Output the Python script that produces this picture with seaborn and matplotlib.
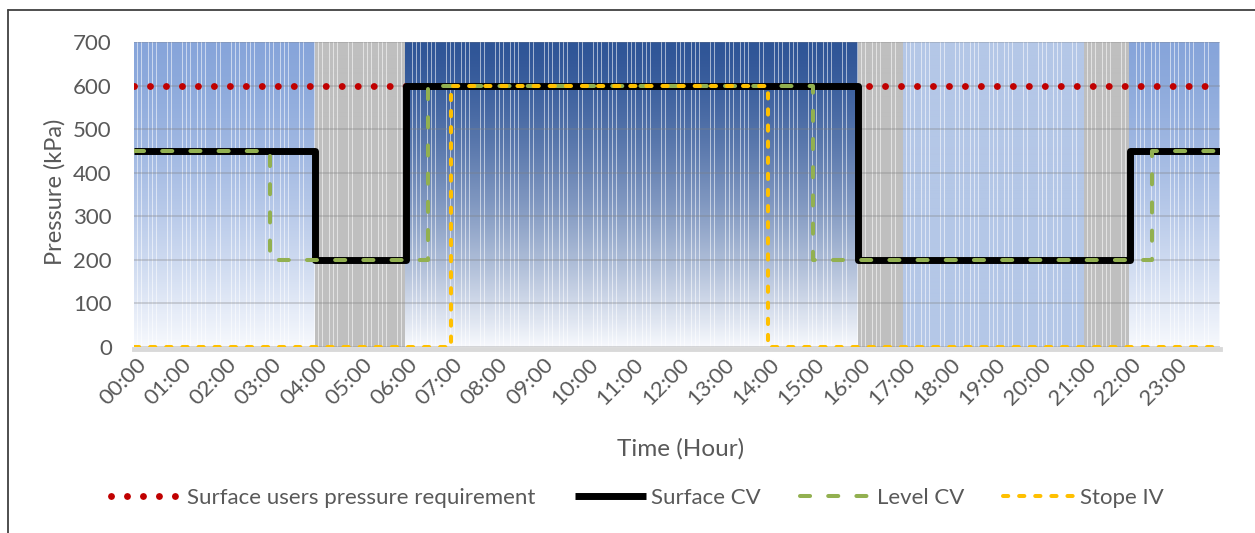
import numpy as np
import pandas as pd
import matplotlib
matplotlib.use("Agg")
import matplotlib.pyplot as plt
from matplotlib.lines import Line2D
from matplotlib.colors import to_rgb
from matplotlib.transforms import ScaledTranslation
import seaborn as sns

# ---------------- data ----------------
hour_labels = [f"{h:02d}:00" for h in range(24)]
hour_ticks = list(range(24))

# step series: change points (hours) and the value held from that point
req_t = [0, 24]
req_v = [600, 600]

surface_cv_t = [0, 4, 6, 16, 22, 24]
surface_cv_v = [450, 200, 600, 200, 450, 450]

level_cv_t = [0, 3, 6.5, 15, 22.5, 24]
level_cv_v = [450, 200, 600, 200, 450, 450]

stope_iv_t = [0, 7, 14, 24]
stope_iv_v = [0, 600, 0, 0]

# background tariff periods
period_start = [0, 4, 6, 16, 17, 21, 22]
period_end = [4, 6, 16, 17, 21, 22, 24]
period_top = ['#87A5DA', '#BFBFBF', '#2F5597', '#BFBFBF', '#B4C7E7', '#BFBFBF', '#87A5DA']
period_bottom = ['#F7F9FD', '#BFBFBF', '#F7F9FD', '#BFBFBF', '#B4C7E7', '#BFBFBF', '#F7F9FD']

y_ticks = [0, 100, 200, 300, 400, 500, 600, 700]

# ---------------- style ----------------
sns.set_theme(style="white")
plt.rcParams['font.family'] = ['Lato', 'DejaVu Sans']
text_color = '#595959'
fs = 16

W, H = 1255, 533
fig = plt.figure(figsize=(W / 100, H / 100), dpi=100)
ax = fig.add_axes([134 / W, 1 - 347 / H, 1086 / W, 305 / H])

# spines first (set_position resets ticks)
for sp in ['left', 'top', 'right']:
    ax.spines[sp].set_visible(False)
ax.spines['bottom'].set_color('#D9D9D9')
ax.spines['bottom'].set_linewidth(3.5)
ax.spines['bottom'].set_position(('outward', 1.5))

# background image built from the period arrays
slots_per_hour = 12
sub = 6
ncols = 24 * slots_per_hour * sub
nrows = 300
t_cols = (np.arange(ncols) + 0.5) / ncols * 24
img = np.ones((nrows, ncols, 3))
ty = (np.linspace(0, 1, nrows) ** 1.4)[:, None]
for s, e, ct, cb in zip(period_start, period_end, period_top, period_bottom):
    m = (t_cols >= s) & (t_cols < e)
    top = np.array(to_rgb(ct))
    bot = np.array(to_rgb(cb))
    grad = top[None, :] * (1 - ty) + bot[None, :] * ty
    img[:, m, :] = grad[:, None, :]
frac = (t_cols * slots_per_hour) % 1.0
gap = frac > 0.8
img[:, gap, :] = img[:, gap, :] * 0.45 + 0.55
ax.imshow(img, extent=(0, 24, 0, 700), aspect='auto', interpolation='nearest',
          origin='upper', zorder=0)

# lines
df_req = pd.DataFrame({'t': req_t, 'v': req_v})
df_s = pd.DataFrame({'t': surface_cv_t, 'v': surface_cv_v})
df_l = pd.DataFrame({'t': level_cv_t, 'v': level_cv_v})
df_st = pd.DataFrame({'t': stope_iv_t, 'v': stope_iv_v})

red_kw = dict(color='#C00000', lw=5, linestyle=(0, (0.001, 2.3)), dash_capstyle='round')
blk_kw = dict(color='black', lw=5, solid_joinstyle='round', solid_capstyle='butt')
grn_kw = dict(color='#92B050', lw=2.9, linestyle=(0, (2.5, 4.5)), dash_capstyle='round')
yel_kw = dict(color='#FFC000', lw=2.9, linestyle=(0, (1.3, 2.7)), dash_capstyle='round')

sns.lineplot(data=df_req, x='t', y='v', ax=ax, legend=False, zorder=3, **red_kw)
sns.lineplot(data=df_s, x='t', y='v', ax=ax, legend=False, drawstyle='steps-post', zorder=4, **blk_kw)
sns.lineplot(data=df_l, x='t', y='v', ax=ax, legend=False, drawstyle='steps-post', zorder=5, **grn_kw)
sns.lineplot(data=df_st, x='t', y='v', ax=ax, legend=False, drawstyle='steps-post', zorder=6, **yel_kw)

ax.set_xlim(0, 24)
ax.set_ylim(0, 700)
ax.set_xlabel('')
ax.set_ylabel('')
ax.set_axisbelow(True)
ax.yaxis.grid(True, color='#7F7F7F', alpha=0.35, lw=1.2)
ax.xaxis.grid(False)

ax.set_yticks(y_ticks)
ax.set_yticklabels([str(v) for v in y_ticks])
ax.set_xticks(hour_ticks)
ax.set_xticklabels(hour_labels)
ax.tick_params(axis='x', length=0, pad=9, labelsize=fs, labelcolor=text_color, labelrotation=45)
ax.tick_params(axis='y', length=0, pad=16, labelsize=fs, labelcolor=text_color)
shift = ScaledTranslation(9 / 100, 0, fig.dpi_scale_trans)
for lab in ax.get_xticklabels():
    lab.set_ha('right')
    lab.set_va('center')
    lab.set_rotation_mode('anchor')
    lab.set_transform(lab.get_transform() + shift)

fig.text(55 / W, 1 - 192 / H, 'Pressure (kPa)', rotation=90, ha='center', va='center',
         fontsize=17, color=text_color)
fig.text(681 / W, 1 - 449 / H, 'Time (Hour)', ha='center', va='center',
         fontsize=17.5, color=text_color)

handles = [
    Line2D([], [], **red_kw),
    Line2D([], [], **blk_kw),
    Line2D([], [], **grn_kw),
    Line2D([], [], **yel_kw),
]
labels = ['Surface users pressure requirement', 'Surface CV', 'Level CV', 'Stope IV']
leg = fig.legend(handles, labels, loc='center', bbox_to_anchor=(637 / W, 1 - 498 / H),
                 ncol=4, frameon=False, fontsize=fs, handlelength=3.2, handletextpad=0.25,
                 columnspacing=1.75, borderpad=0)
for t in leg.get_texts():
    t.set_color(text_color)

# outer chart border (extends beyond image on right/bottom)
fig.add_artist(Line2D([8 / W, 1.0], [1 - 10 / H, 1 - 10 / H], transform=fig.transFigure,
                      color='#404040', lw=1.3))
fig.add_artist(Line2D([8 / W, 8 / W], [1 - 10 / H, 0.0], transform=fig.transFigure,
                      color='#404040', lw=1.3))

fig.savefig('out.png', dpi=100, facecolor='white')
